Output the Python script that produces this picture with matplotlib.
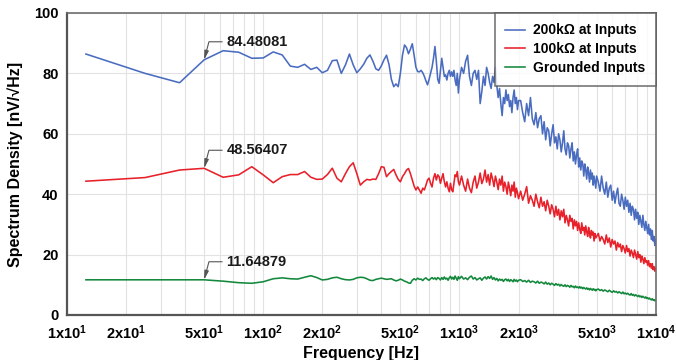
import numpy as np
import matplotlib
matplotlib.use("Agg")
import matplotlib.pyplot as plt
from matplotlib.ticker import FixedLocator, NullFormatter, LogLocator

plt.rcParams['font.family'] = ['Liberation Sans', 'DejaVu Sans']
plt.rcParams['mathtext.fontset'] = 'custom'
plt.rcParams['mathtext.rm'] = 'Liberation Sans'
plt.rcParams['mathtext.bf'] = 'Liberation Sans:bold'

# FFT bin frequencies (Hz): 12.5 Hz bins to 1 kHz, then decimated bins above
freq = np.concatenate([
    np.arange(12.5, 1000.01, 12.5),
    np.arange(1025, 2000.01, 25),
    np.arange(2050, 5000.01, 50),
    np.arange(5100, 10000.01, 100),
])

series_names = ["200k\u03a9 at Inputs", "100k\u03a9 at Inputs", "Grounded Inputs"]

nsd_200k = [
    # 12.5 .. 300 Hz
    86.4, 80.0, 76.9, 84.48081, 87.5, 87.0, 85.0, 85.1, 87.1, 86.1, 82.4, 82.0,
    83.0, 81.3, 82.0, 80.2, 81.0, 84.2, 84.4, 80.0, 82.8, 86.4, 82.8, 80.2,
    # 312.5 .. 1000 Hz
    81.5, 83.0, 85.0, 86.1, 84.0, 81.5, 81.0, 82.5, 84.5, 86.0, 83.0, 78.0,
    75.6, 76.5, 75.6, 80.0, 86.0, 89.4, 88.5, 86.5, 88.0, 89.8, 86.0, 82.0,
    80.6, 80.5, 81.0, 80.2, 79.0, 77.5, 76.2, 78.0, 80.0, 82.0, 85.0, 88.9,
    84.0, 78.0, 76.7, 81.0, 85.0, 82.0, 79.0, 79.5, 77.8, 80.0, 81.0, 79.0,
    80.5, 79.0, 81.0, 77.8, 76.0, 80.0, 73.5, 78.0,
    # 1025 .. 2000 Hz
    82, 80, 84, 86, 79, 76, 80, 81, 78, 81, 70, 74, 79, 76, 82, 80, 77, 75, 79, 77,
    82, 76, 72, 75, 70, 66, 72, 70, 74.5, 71, 73, 69, 71, 67, 72, 74.5, 70, 72, 68, 71,
    # 2050 .. 5000 Hz
    71, 67, 64, 70, 66, 72, 65, 63, 67, 62, 65, 66, 60, 64, 58, 62, 61, 56, 60, 63,
    57, 59, 55, 60, 58, 54, 57, 61, 55, 53, 57, 56, 52, 55, 57, 51, 54, 50, 53, 55,
    49, 52, 48, 51, 50, 46, 50, 48, 45, 49, 47, 44, 48, 45, 47, 43, 46, 44, 42, 46,
    # 5100 .. 10000 Hz
    44, 41, 46, 42, 40, 44, 39, 42, 43, 38, 41, 37, 40, 42, 37, 36, 40, 38, 35, 39,
    36, 38, 34, 37, 33, 36, 35, 31.5, 35, 32, 34, 30, 33, 31, 29, 33, 30, 28, 31, 29,
    27, 30, 26.5, 28.5, 25, 28, 24.5, 26, 23, 25,
]

nsd_100k = [
    # 12.5 .. 300 Hz
    44.3, 45.5, 48.0, 48.56407, 45.6, 46.4, 49.1, 46.4, 43.8, 45.8, 46.5, 46.5,
    47.5, 45.6, 44.9, 45.0, 46.5, 48.6, 45.3, 44.1, 46.8, 49.1, 50.4, 46.8,
    # 312.5 .. 1000 Hz
    43.0, 44.1, 44.9, 44.7, 45.0, 44.9, 46.8, 49.1, 48.9, 45.8, 46.8, 47.5,
    48.2, 46.4, 44.9, 44.1, 45.8, 46.8, 48.0, 48.5, 46.8, 44.7, 42.7, 41.4,
    42.4, 41.4, 40.3, 42.0, 41.4, 43.0, 44.7, 45.3, 43.6, 42.4, 45.3, 46.8,
    44.7, 46.4, 45.8, 43.6, 45.3, 46.8, 44.1, 42.4, 44.1, 42.0, 40.8, 43.6,
    41.4, 40.8, 43.6, 46.4, 45.8, 47.5, 44.1, 43.0,
    # 1025 .. 2000 Hz
    46, 43, 41, 45, 42, 40.5, 44, 46, 42, 44, 47, 43.5, 45, 48, 44, 46.5, 43, 47, 45, 42.5,
    46, 44, 41.5, 45, 43, 46, 41, 44, 42.5, 40, 44, 42, 39.5, 43, 41, 44, 39, 42, 40.5, 38.5,
    # 2050 .. 5000 Hz
    41, 38, 40, 42.5, 37, 39.5, 38, 36, 40, 37.5, 35.5, 39, 36, 37.5, 34.5, 38, 36, 33.5, 36.5, 35,
    32.5, 36, 33, 35, 31.5, 34.5, 32.5, 35, 30.5, 33, 31.5, 29.5, 33, 31, 32, 28.5, 31.5, 29.5, 31, 28,
    30.5, 28.5, 27, 30.5, 28, 29, 26.5, 29.5, 27.5, 26, 29, 27, 25.5, 28, 26.5, 27.5, 24.5, 27, 25.5, 26,
    # 5100 .. 10000 Hz
    27, 24.5, 26, 25, 23.5, 26.5, 24, 25.5, 22.5, 25, 23.5, 24.5, 21.5, 24, 22.5, 23.5, 21, 23, 22, 20.5,
    23, 21, 22, 19.5, 21.5, 20.5, 19, 21.5, 20, 18.5, 21, 19, 20, 17.5, 19.5, 18.5, 17, 19, 17.5, 18,
    16.5, 18, 16, 17, 15.5, 17, 15, 16, 14.5, 15.5,
]

nsd_gnd = [
    # 12.5 .. 300 Hz
    11.65, 11.65, 11.65, 11.64879, 11.2, 10.7, 10.5, 11.0, 12.0, 12.3, 12.0, 11.9,
    12.5, 13.0, 12.4, 11.6, 11.8, 12.3, 12.5, 12.0, 11.7, 11.6, 11.8, 12.3,
    # 312.5 .. 1000 Hz
    12.5, 12.4, 12.0, 11.5, 11.4, 11.8, 12.0, 12.2, 12.0, 11.8, 11.9, 12.0,
    11.6, 11.3, 11.5, 11.9, 11.6, 11.2, 11.0, 10.6, 10.5, 11.5, 12.0, 11.6,
    12.2, 11.8, 11.9, 11.4, 12.0, 12.3, 11.8, 11.5, 12.0, 12.4, 11.9, 12.3,
    11.7, 12.4, 12.1, 11.6, 12.4, 11.8, 12.6, 11.9, 12.2, 11.5, 12.3, 12.8,
    11.9, 12.5, 11.8, 12.9, 12.2, 11.5, 12.7, 12.0,
    # 1025 .. 2000 Hz
    12.8, 11.9, 12.3, 11.7, 12.5, 12.9, 11.9, 12.4, 11.6, 12.0, 12.3, 11.5, 12.2, 12.6,
    11.9, 12.7, 12.1, 12.9, 11.8, 12.4, 11.6, 12.1, 11.3, 11.9, 11.5, 11.8, 11.1, 11.7,
    11.9, 11.3, 11.8, 11.1, 11.7, 11.4, 11.0, 11.8, 11.2, 11.6, 11.0, 11.5,
    # 2050 .. 5000 Hz
    11.7, 11.1, 11.4, 10.9, 11.5, 10.8, 11.2, 11.0, 10.6, 11.2, 10.5, 10.9, 10.7, 10.3,
    10.9, 10.2, 10.6, 10.0, 10.5, 10.2, 9.8, 10.4, 9.9, 10.2, 9.6, 10.1, 9.7, 9.5, 10.0,
    9.4, 9.8, 9.6, 9.2, 9.8, 9.3, 9.5, 9.0, 9.6, 9.1, 9.3, 8.9, 9.4, 8.9, 9.2, 8.7, 9.1,
    8.8, 8.6, 9.0, 8.5, 8.8, 8.3, 8.8, 8.5, 8.2, 8.7, 8.3, 8.5, 8.0, 8.4,
    # 5100 .. 10000 Hz
    8.6, 8.1, 8.4, 7.9, 8.3, 8.0, 7.7, 8.2, 7.8, 7.5, 8.0, 7.6, 7.8, 7.3, 7.7, 7.4, 7.1,
    7.6, 7.0, 7.3, 6.9, 7.2, 6.8, 6.6, 7.1, 6.5, 6.8, 6.3, 6.7, 6.4, 6.1, 6.5, 6.0, 6.3,
    5.8, 6.2, 5.9, 5.6, 6.0, 5.5, 5.7, 5.3, 5.6, 5.2, 5.0, 5.4, 4.9, 5.1, 4.7, 4.9,
]

series_colors = ["#4a6cc0", "#e8202a", "#13883c"]

# marker frequency and the values quoted in the callouts
marker_freq = 50.0
marker_values = [84.48081, 48.56407, 11.64879]

x_ticks = [10, 20, 50, 100, 200, 500, 1000, 2000, 5000, 10000]
x_tick_labels = [r"$\mathbf{1x10^{1}}$", r"$\mathbf{2x10^{1}}$", r"$\mathbf{5x10^{1}}$",
                 r"$\mathbf{1x10^{2}}$", r"$\mathbf{2x10^{2}}$", r"$\mathbf{5x10^{2}}$",
                 r"$\mathbf{1x10^{3}}$", r"$\mathbf{2x10^{3}}$", r"$\mathbf{5x10^{3}}$",
                 r"$\mathbf{1x10^{4}}$"]
y_ticks = [0, 20, 40, 60, 80, 100]

fig = plt.figure(figsize=(6.76, 3.60), dpi=100)
ax = fig.add_axes([0.099, 0.125, 0.871, 0.839])

for vals, name, col in zip([nsd_200k, nsd_100k, nsd_gnd], series_names, series_colors):
    ax.plot(freq, vals, color=col, lw=1.15, label=name, solid_joinstyle='round')

ax.set_xscale('log')
ax.set_xlim(10, 10000)
ax.set_ylim(0, 100)

ax.xaxis.set_major_locator(FixedLocator(x_ticks))
ax.set_xticklabels(x_tick_labels)
ax.xaxis.set_minor_locator(LogLocator(base=10, subs=np.arange(2, 10)))
ax.xaxis.set_minor_formatter(NullFormatter())
ax.set_yticks(y_ticks)
ax.set_yticklabels([str(v) for v in y_ticks])

ax.grid(True, which='both', axis='x', color='#e2e2e2', lw=0.8)
ax.grid(True, which='major', axis='y', color='#e2e2e2', lw=0.8)
ax.set_axisbelow(True)

ax.tick_params(which='both', length=0, pad=6)
for lab in ax.get_yticklabels():
    lab.set_fontweight('bold')
    lab.set_fontsize(10.5)
for lab in ax.get_xticklabels():
    lab.set_fontsize(10.5)

for side in ['left', 'bottom', 'top', 'right']:
    ax.spines[side].set_color('#6e6e6e')
    ax.spines[side].set_linewidth(1.2)
ax.spines['left'].set_color('#555555')
ax.spines['bottom'].set_color('#555555')
ax.spines['left'].set_linewidth(1.6)
ax.spines['bottom'].set_linewidth(1.6)

ax.set_xlabel("Frequency [Hz]", fontsize=11.5, fontweight='bold', labelpad=3)
ax.set_ylabel("Spectrum Density [nV/\u221aHz]", fontsize=11.5, fontweight='bold', labelpad=8)

for v in marker_values:
    ax.annotate(f"{v:.5f}", xy=(marker_freq, v), xytext=(16, 13),
                textcoords='offset points', fontsize=10.5, fontweight='bold',
                color='#1a1a1a', va='center', ha='left',
                arrowprops=dict(arrowstyle='-|>,head_length=0.5,head_width=0.12',
                                color='#555555', lw=0.8,
                                connectionstyle='angle,angleA=0,angleB=75,rad=0',
                                shrinkA=1, shrinkB=0))

leg = ax.legend(loc='upper right', fontsize=10, frameon=True, fancybox=False,
                borderaxespad=0.0, handlelength=1.4, handletextpad=0.6,
                borderpad=0.75, labelspacing=0.35)
leg.get_frame().set_edgecolor('#555555')
leg.get_frame().set_linewidth(1.2)
for t in leg.get_texts():
    t.set_fontweight('bold')

fig.savefig("out.png", dpi=100, facecolor='white')
